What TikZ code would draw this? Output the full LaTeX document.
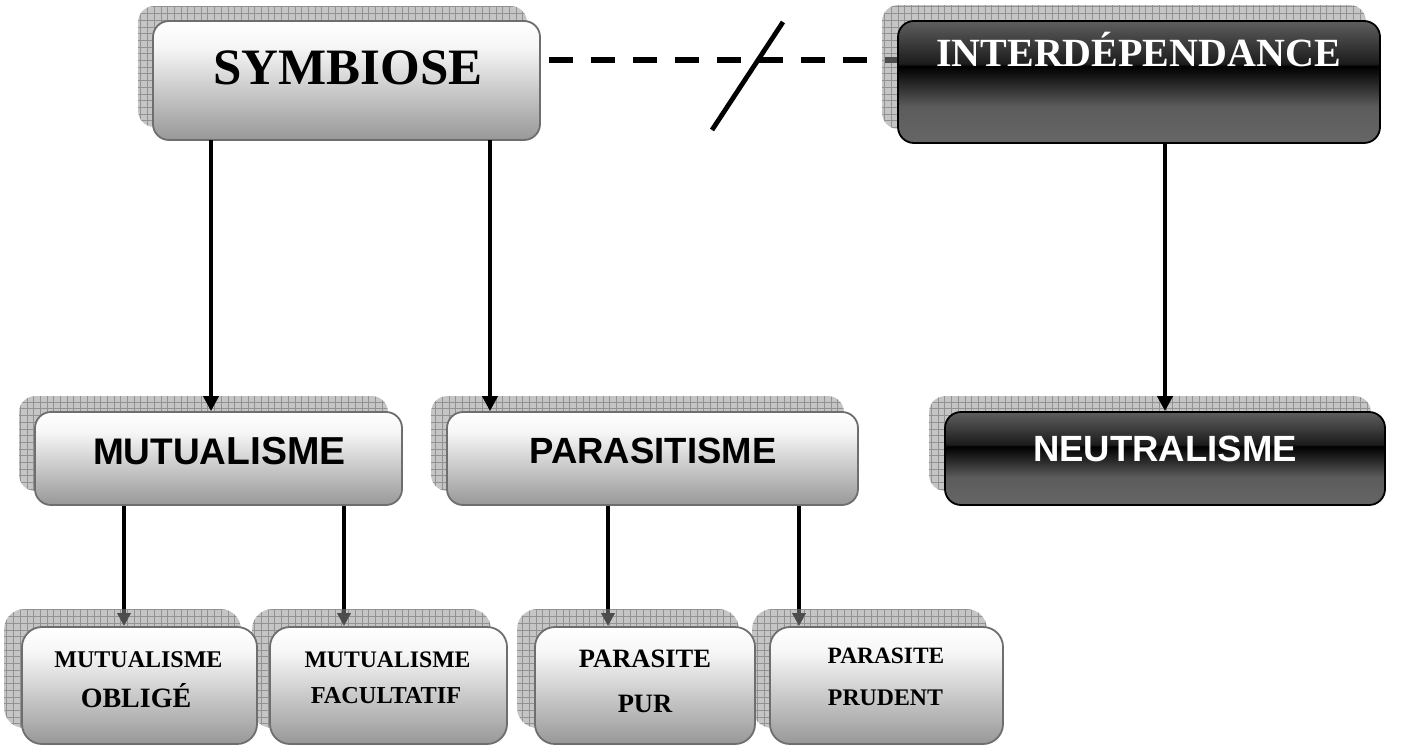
\documentclass[tikz,border=0pt]{standalone}
\usepackage{fontspec}
\setmainfont{Liberation Serif}
\newfontfamily\arialf{Liberation Sans}
\usetikzlibrary{arrows.meta,calc}
\pgfdeclarelayer{back}
\pgfdeclarelayer{mid}
\pgfsetlayers{back,mid,main}
\definecolor{dgA}{HTML}{666666}
\definecolor{dgB}{HTML}{5C5C5C}
\definecolor{dgC}{HTML}{2E2E2E}
\definecolor{dgD}{HTML}{1C1C1C}
\definecolor{dgE}{HTML}{5E5E5E}
\definecolor{lgA}{HTML}{989898}
\definecolor{lgB}{HTML}{D4D4D4}
\definecolor{lgC}{HTML}{F6F6F6}
\definecolor{boxgray}{HTML}{6E6E6E}
\definecolor{shc}{HTML}{919191}
\pgfdeclareverticalshading{darkglass}{100bp}{color(0bp)=(dgA); color(25bp)=(dgA); color(40bp)=(dgB); color(48bp)=(dgC); color(56.5bp)=(black); color(57.5bp)=(dgD); color(75bp)=(dgE); color(100bp)=(dgE)}
\pgfdeclareverticalshading{lightglass}{100bp}{color(0bp)=(lgA); color(25bp)=(lgA); color(50bp)=(lgB); color(64bp)=(lgC); color(75bp)=(white); color(100bp)=(white)}
\tikzset{
  lbox/.style={draw=boxgray, line width=1.8pt, rounded corners=16pt, shading=lightglass, inner sep=0pt},
  dbox/.style={draw=black, line width=1.8pt, rounded corners=16pt, shading=darkglass, inner sep=0pt},
  sbox/.style={draw=boxgray, line width=1.8pt, rounded corners=20pt, shading=lightglass, inner sep=0pt},
  shadowst/.style={fill=shc, fill opacity=0.52,
    path picture={\draw[black!67, draw opacity=0.45, line width=0.5pt, step=6.7pt]
      (path picture bounding box.south west) grid (path picture bounding box.north east);}},
  arr/.style={line width=4.4pt, -{Triangle[length=15pt,width=15pt]}},
  sarr/.style={line width=3.6pt, -{Triangle[length=13pt,width=13pt]}},
  dashln/.style={line width=5.5pt, dash pattern=on 24pt off 18pt},
  slashln/.style={line width=4.8pt},
  serifbig/.style={anchor=base, inner sep=0pt, font=\bfseries},
  sanslbl/.style={anchor=base, inner sep=0pt, font=\arialf\bfseries},
}
\begin{document}
\begin{tikzpicture}[x=1pt,y=-1pt]
\useasboundingbox (0,0) rectangle (1420,746);
\begin{pgfonlayer}{back}
\fill[white] (0,0) rectangle (1420,746);
\end{pgfonlayer}

% boxes
\node[lbox,minimum width=387pt,minimum height=119pt] (symb) at (346.5,80.5) {};
\node[dbox,minimum width=482pt,minimum height=122pt] (interd) at (1139,82) {};
\node[lbox,minimum width=367pt,minimum height=93pt] (mut) at (218.5,458.5) {};
\node[lbox,minimum width=411pt,minimum height=93pt] (para) at (652.5,458.5) {};
\node[dbox,minimum width=440pt,minimum height=93pt] (neut) at (1165,458.5) {};
\node[sbox,minimum width=235pt,minimum height=117pt] (mobl) at (139.5,685.5) {};
\node[sbox,minimum width=237pt,minimum height=117pt] (mfac) at (388.5,685.5) {};
\node[sbox,minimum width=220pt,minimum height=117pt] (ppur) at (645,685.5) {};
\node[sbox,minimum width=233pt,minimum height=117pt] (pprud) at (886.5,685.5) {};

% shadows
\begin{pgfonlayer}{mid}
\foreach \n/\d/\r in {symb/14/16, interd/15/16, mut/15/16, para/15/16, neut/15/16, mobl/17/20, mfac/17/20, ppur/17/20, pprud/17/20}{
  \path[shadowst, rounded corners=\r pt] ($(\n.south west)+(-\d,-\d)$) rectangle ($(\n.north east)+(-\d,-\d)$);
}
\end{pgfonlayer}

% texts
\node[serifbig, font=\bfseries\fontsize{51}{51}\selectfont] (symbt) at (348,85) {SYMBIOSE};
\node[serifbig, text=white, font=\bfseries\fontsize{40}{40}\selectfont] (interdt) at (1138.5,67) {INTERDÉPENDANCE};
\node[sanslbl] (mutt) at (219.5,464) {{\fontsize{37}{37}\selectfont MUTUA}{\fontsize{39}{39}\selectfont LISME}};
\node[sanslbl, font=\arialf\bfseries\fontsize{36.5}{36.5}\selectfont] (parat) at (653,463) {PARASITISME};
\node[sanslbl, text=white, font=\arialf\bfseries\fontsize{36.5}{36.5}\selectfont] (neutt) at (1165,461) {NEUTRALISME};

\node[serifbig, font=\bfseries\fontsize{24}{24}\selectfont] (mobla) at (138.5,667) {MUTUALISME};
\node[serifbig, font=\bfseries\fontsize{28}{28}\selectfont] (moblb) at (136,707) {OBLIGÉ};
\node[serifbig, font=\bfseries\fontsize{23.7}{23.7}\selectfont] (mfaca) at (387.5,667) {MUTUALISME};
\node[serifbig, font=\bfseries\fontsize{24.3}{24.3}\selectfont] (mfacb) at (386,703) {FACULTATIF};
\node[serifbig, font=\bfseries\fontsize{26.5}{26.5}\selectfont] (ppura) at (645,667) {PARASITE};
\node[serifbig, font=\bfseries\fontsize{26.5}{26.5}\selectfont] (ppurb) at (645,712) {PUR};
\node[serifbig, font=\bfseries\fontsize{23.4}{23.4}\selectfont] (pprua) at (886,663) {PARASITE};
\node[serifbig, font=\bfseries\fontsize{23.8}{23.8}\selectfont] (pprub) at (885.5,705) {PRUDENT};

% connectors
\coordinate (xa) at (211,0);
\coordinate (xb) at (490,0);
\coordinate (xc) at (1165,0);
\coordinate (xd) at (124,0);
\coordinate (xe) at (344,0);
\coordinate (xf) at (608,0);
\coordinate (xg) at (799,0);
\coordinate (yd) at (0,60);
\coordinate (sl1) at (712,130);
\coordinate (sl2) at (783,22);
\draw[arr] ([yshift=0.9pt]symb.south -| xa) -- (mut.north -| xa);
\draw[arr] ([yshift=0.9pt]symb.south -| xb) -- (para.north -| xb);
\draw[arr] ([yshift=0.9pt]interd.south -| xc) -- (neut.north -| xc);
\begin{pgfonlayer}{back}
\draw[sarr] (mut.south -| xd) -- (mobl.north -| xd);
\draw[sarr] (mut.south -| xe) -- (mfac.north -| xe);
\draw[sarr] (para.south -| xf) -- (ppur.north -| xf);
\draw[sarr] (para.south -| xg) -- (pprud.north -| xg);
\draw[dashln] ($(symb.east |- yd)+(8,0)$) -- (interd.west |- yd);
\end{pgfonlayer}
\draw[slashln] (sl1) -- (sl2);
\end{tikzpicture}
\end{document}
